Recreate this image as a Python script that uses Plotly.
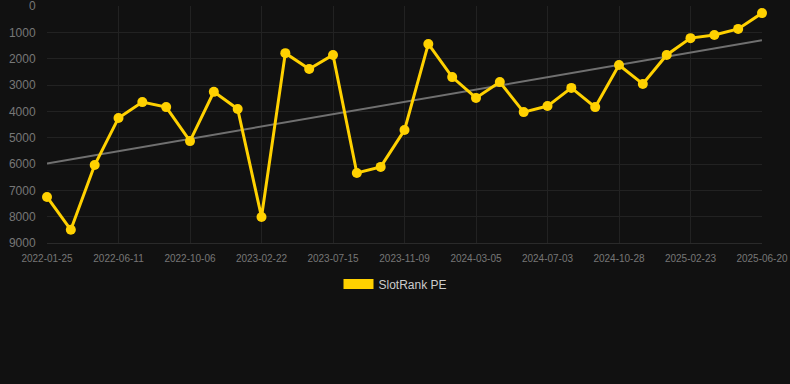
import numpy as np
import plotly.graph_objects as go

dates = [
    "2022-01-25", "2022-03-10", "2022-04-26", "2022-06-11", "2022-07-20", "2022-08-28",
    "2022-10-06", "2022-11-22", "2023-01-07", "2023-02-22", "2023-04-10", "2023-05-28",
    "2023-07-15", "2023-08-23", "2023-10-01", "2023-11-09", "2023-12-18", "2024-01-26",
    "2024-03-05", "2024-04-14", "2024-05-24", "2024-07-03", "2024-08-11", "2024-09-19",
    "2024-10-28", "2024-12-06", "2025-01-14", "2025-02-23", "2025-04-03", "2025-05-12",
    "2025-06-20",
]
rank_pe = [
    7250, 8500, 6040, 4250, 3650, 3840, 5130, 3260, 3910, 8010,
    1790, 2390, 1860, 6340, 6110, 4710, 1440, 2700, 3490, 2890,
    4030, 3800, 3110, 3840, 2240, 2960, 1860, 1220, 1100, 870, 270,
]
tick_labels = dates[::3]
y_ticks = [0, 1000, 2000, 3000, 4000, 5000, 6000, 7000, 8000, 9000]
series_name = "SlotRank PE"

idx = np.arange(len(rank_pe))
slope, intercept = np.polyfit(idx, rank_pe, 1)
trend = slope * idx + intercept

GOLD = "#FFD100"
fig = go.Figure()
fig.add_trace(go.Scatter(
    x=dates, y=trend, mode="lines", line=dict(color="#707070", width=2),
    showlegend=False, hoverinfo="skip",
))
fig.add_trace(go.Scatter(
    x=dates, y=rank_pe, mode="lines+markers", name=series_name,
    line=dict(color=GOLD, width=3), marker=dict(color=GOLD, size=10),
    cliponaxis=False, showlegend=False,
))
# legend swatch
fig.add_trace(go.Scatter(
    x=[None], y=[None], mode="lines", name=series_name,
    line=dict(color=GOLD, width=12), showlegend=True,
))

fig.update_layout(
    width=790, height=384,
    paper_bgcolor="#111111", plot_bgcolor="#111111",
    margin=dict(l=47, r=28, t=6, b=141, autoexpand=False),
    font=dict(family="Arial, Liberation Sans, sans-serif", color="#777777"),
    showlegend=True,
    legend=dict(orientation="h", x=0.5 - 9 / 715, xanchor="center", y=1 - 284 / 384, yanchor="middle",
                yref="container", font=dict(size=12, color="#cccccc"), bgcolor="rgba(0,0,0,0)"),
    xaxis=dict(
        type="category", range=[0, len(dates) - 1], tickvals=tick_labels, ticktext=tick_labels,
        tickfont=dict(size=10, color="#777777"), showgrid=True, gridcolor="#222222",
        showline=True, linecolor="#2a2a2a", zeroline=False, automargin=False,
        ticks="outside", ticklen=6, tickcolor="rgba(0,0,0,0)", ticklabeloverflow="allow",
    ),
    yaxis=dict(
        range=[9000, 0], tickvals=y_ticks, tickfont=dict(size=12, color="#777777"),
        showgrid=True, gridcolor="#222222", zeroline=False, automargin=False,
        ticks="outside", ticklen=8, tickcolor="rgba(0,0,0,0)", ticklabeloverflow="allow",
    ),
)
fig.write_html(
    "out.html",
    config={"displayModeBar": False},
    post_script="document.body.style.margin='0';document.body.style.background='#111111';",
)
